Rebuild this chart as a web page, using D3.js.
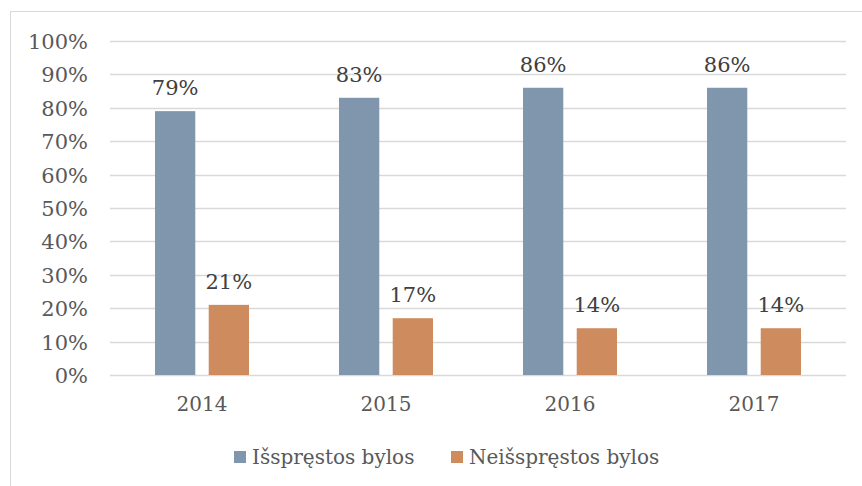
<!DOCTYPE html>
<html>
<head>
<meta charset="utf-8">
<script src="https://cdn.jsdelivr.net/npm/d3@7"></script>
<style>
  body { margin: 0; background: white; }
  text { font-family: 'DejaVu Serif', serif; }
</style>
</head>
<body>
<div id="chart"></div>
<script>
'use strict';

const years = ['2014', '2015', '2016', '2017'];
const seriesNames = ['Išspręstos bylos', 'Neišspręstos bylos'];
const solved = [0.79, 0.83, 0.86, 0.86];
const unsolved = [0.21, 0.17, 0.14, 0.14];
const yTicks = [0, 0.1, 0.2, 0.3, 0.4, 0.5, 0.6, 0.7, 0.8, 0.9, 1];
const colors = ['#7F96AD', '#CD8B5E'];

const svgWidth = 862, svgHeight = 486;
const plot = {left: 110, right: 846, top: 41, bottom: 375};

const svg = d3.select('#chart').append('svg')
  .attr('width', svgWidth)
  .attr('height', svgHeight);

// chart frame (only top and left edges are visible in the picture)
svg.append('rect')
  .attr('x', 10.5).attr('y', 11.5)
  .attr('width', svgWidth + 20).attr('height', svgHeight + 20)
  .attr('fill', 'white')
  .attr('stroke', '#D9D9D9').attr('stroke-width', 1);

const y = d3.scaleLinear().domain([0, 1]).range([plot.bottom, plot.top]);
const x0 = d3.scaleBand().domain(years).range([plot.left, plot.right]);
const x1 = d3.scaleBand().domain(seriesNames)
  .range([x0.bandwidth() / 2 - 47, x0.bandwidth() / 2 + 47])
  .paddingInner(0.25);

// gridlines
svg.append('g')
  .selectAll('line')
  .data(yTicks)
  .enter().append('line')
    .attr('x1', plot.left).attr('x2', plot.right)
    .attr('y1', d => Math.round(y(d)) + 0.5)
    .attr('y2', d => Math.round(y(d)) + 0.5)
    .attr('stroke', '#D9D9D9').attr('stroke-width', 1.3);

// y axis labels
const yAxis = svg.append('g')
  .attr('transform', 'translate(' + (plot.left - 22) + ',0)')
  .call(d3.axisLeft(y).tickValues(yTicks).tickFormat(d3.format('.0%')).tickSize(0).tickPadding(0));
yAxis.select('.domain').remove();
yAxis.selectAll('text')
  .attr('font-family', 'DejaVu Serif').attr('font-size', 21)
  .attr('fill', '#595959').attr('dy', '0.36em');

// x axis labels
const xAxis = svg.append('g')
  .attr('transform', 'translate(0,' + plot.bottom + ')')
  .call(d3.axisBottom(x0).tickSize(0).tickPadding(22));
xAxis.select('.domain').remove();
xAxis.selectAll('text')
  .attr('font-family', 'DejaVu Serif').attr('font-size', 20)
  .attr('fill', '#595959');

// bars
const rows = years.map((yr, i) => ({
  year: yr,
  values: [
    {name: seriesNames[0], value: solved[i], color: colors[0]},
    {name: seriesNames[1], value: unsolved[i], color: colors[1]},
  ],
}));

const groups = svg.append('g').selectAll('g')
  .data(rows)
  .enter().append('g')
    .attr('transform', d => 'translate(' + x0(d.year) + ',0)');

groups.selectAll('rect')
  .data(d => d.values)
  .enter().append('rect')
    .attr('x', d => x1(d.name))
    .attr('width', x1.bandwidth())
    .attr('y', d => y(d.value))
    .attr('height', d => y(0) - y(d.value))
    .attr('fill', d => d.color);

groups.selectAll('text.val')
  .data(d => d.values)
  .enter().append('text')
    .attr('class', 'val')
    .attr('x', d => x1(d.name) + x1.bandwidth() / 2)
    .attr('y', d => y(d.value) - 16)
    .attr('text-anchor', 'middle')
    .attr('font-size', 21)
    .attr('fill', '#404040')
    .text(d => d3.format('.0%')(d.value));

// legend
const legendX = [234, 451];
const legend = svg.append('g').selectAll('g')
  .data(seriesNames)
  .enter().append('g')
    .attr('transform', (d, i) => 'translate(' + legendX[i] + ',451)');
legend.append('rect')
  .attr('width', 12).attr('height', 12)
  .attr('fill', (d, i) => colors[i]);
legend.append('text')
  .attr('x', 18).attr('y', 6).attr('dy', '0.36em')
  .attr('font-size', 20)
  .attr('fill', '#595959')
  .text(d => d);
</script>
</body>
</html>
